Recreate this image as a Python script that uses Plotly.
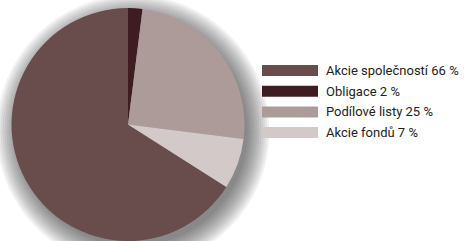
import plotly.graph_objects as go

labels = ["Akcie společností", "Obligace", "Podílové listy", "Akcie fondů"]
values = [66, 2, 25, 7]
colors = ["#684d4c", "#3f1c21", "#ad9b9a", "#d3c9c8"]

W, H = 469, 241
fig = go.Figure()

# soft drop shadow behind the pie (stacked translucent circles)
cx, cy, r = 128, 124.5, 116.5
dx, dy = 5, 7
for k in range(12):
    dr = k * 2 - 2
    fig.add_shape(type="circle", xref="paper", yref="paper", layer="below",
                  x0=(cx + dx - r - dr) / W, x1=(cx + dx + r + dr) / W,
                  y0=1 - (cy + dy + r + dr) / H, y1=1 - (cy + dy - r - dr) / H,
                  fillcolor="rgba(40,40,40,0.06)", line=dict(width=0))

start = sum(values[1:]) / sum(values) * 360
fig.add_trace(go.Pie(
    labels=labels, values=values, sort=False, direction="clockwise",
    rotation=start, marker=dict(colors=colors, line=dict(width=0)),
    textinfo="none", hoverinfo="label+percent", showlegend=False,
    domain=dict(x=[11 / W, 245 / W], y=[0, 233 / H]),
))

font = "Roboto, Liberation Sans Narrow, sans-serif"
row_top = 65
step = 20.7
for i, (lab, v, c) in enumerate(zip(labels, values, colors)):
    y0 = row_top + i * step
    fig.add_shape(type="rect", xref="paper", yref="paper",
                  x0=262 / W, x1=318 / W, y0=1 - (y0 + 11) / H, y1=1 - y0 / H,
                  fillcolor=c, line=dict(width=0))
    fig.add_annotation(xref="paper", yref="paper", x=324 / W, y=1 - (y0 + 5.5) / H,
                       text=f"{lab} {v} %", showarrow=False, xanchor="left", yanchor="middle",
                       font=dict(family=font, size=13, color="#222222"))

fig.update_layout(width=W, height=H, margin=dict(l=0, r=0, t=0, b=0),
                  paper_bgcolor="white", plot_bgcolor="white")
fig.write_html("out.html", config={"displayModeBar": False},
               post_script="document.body.style.margin='0';")
